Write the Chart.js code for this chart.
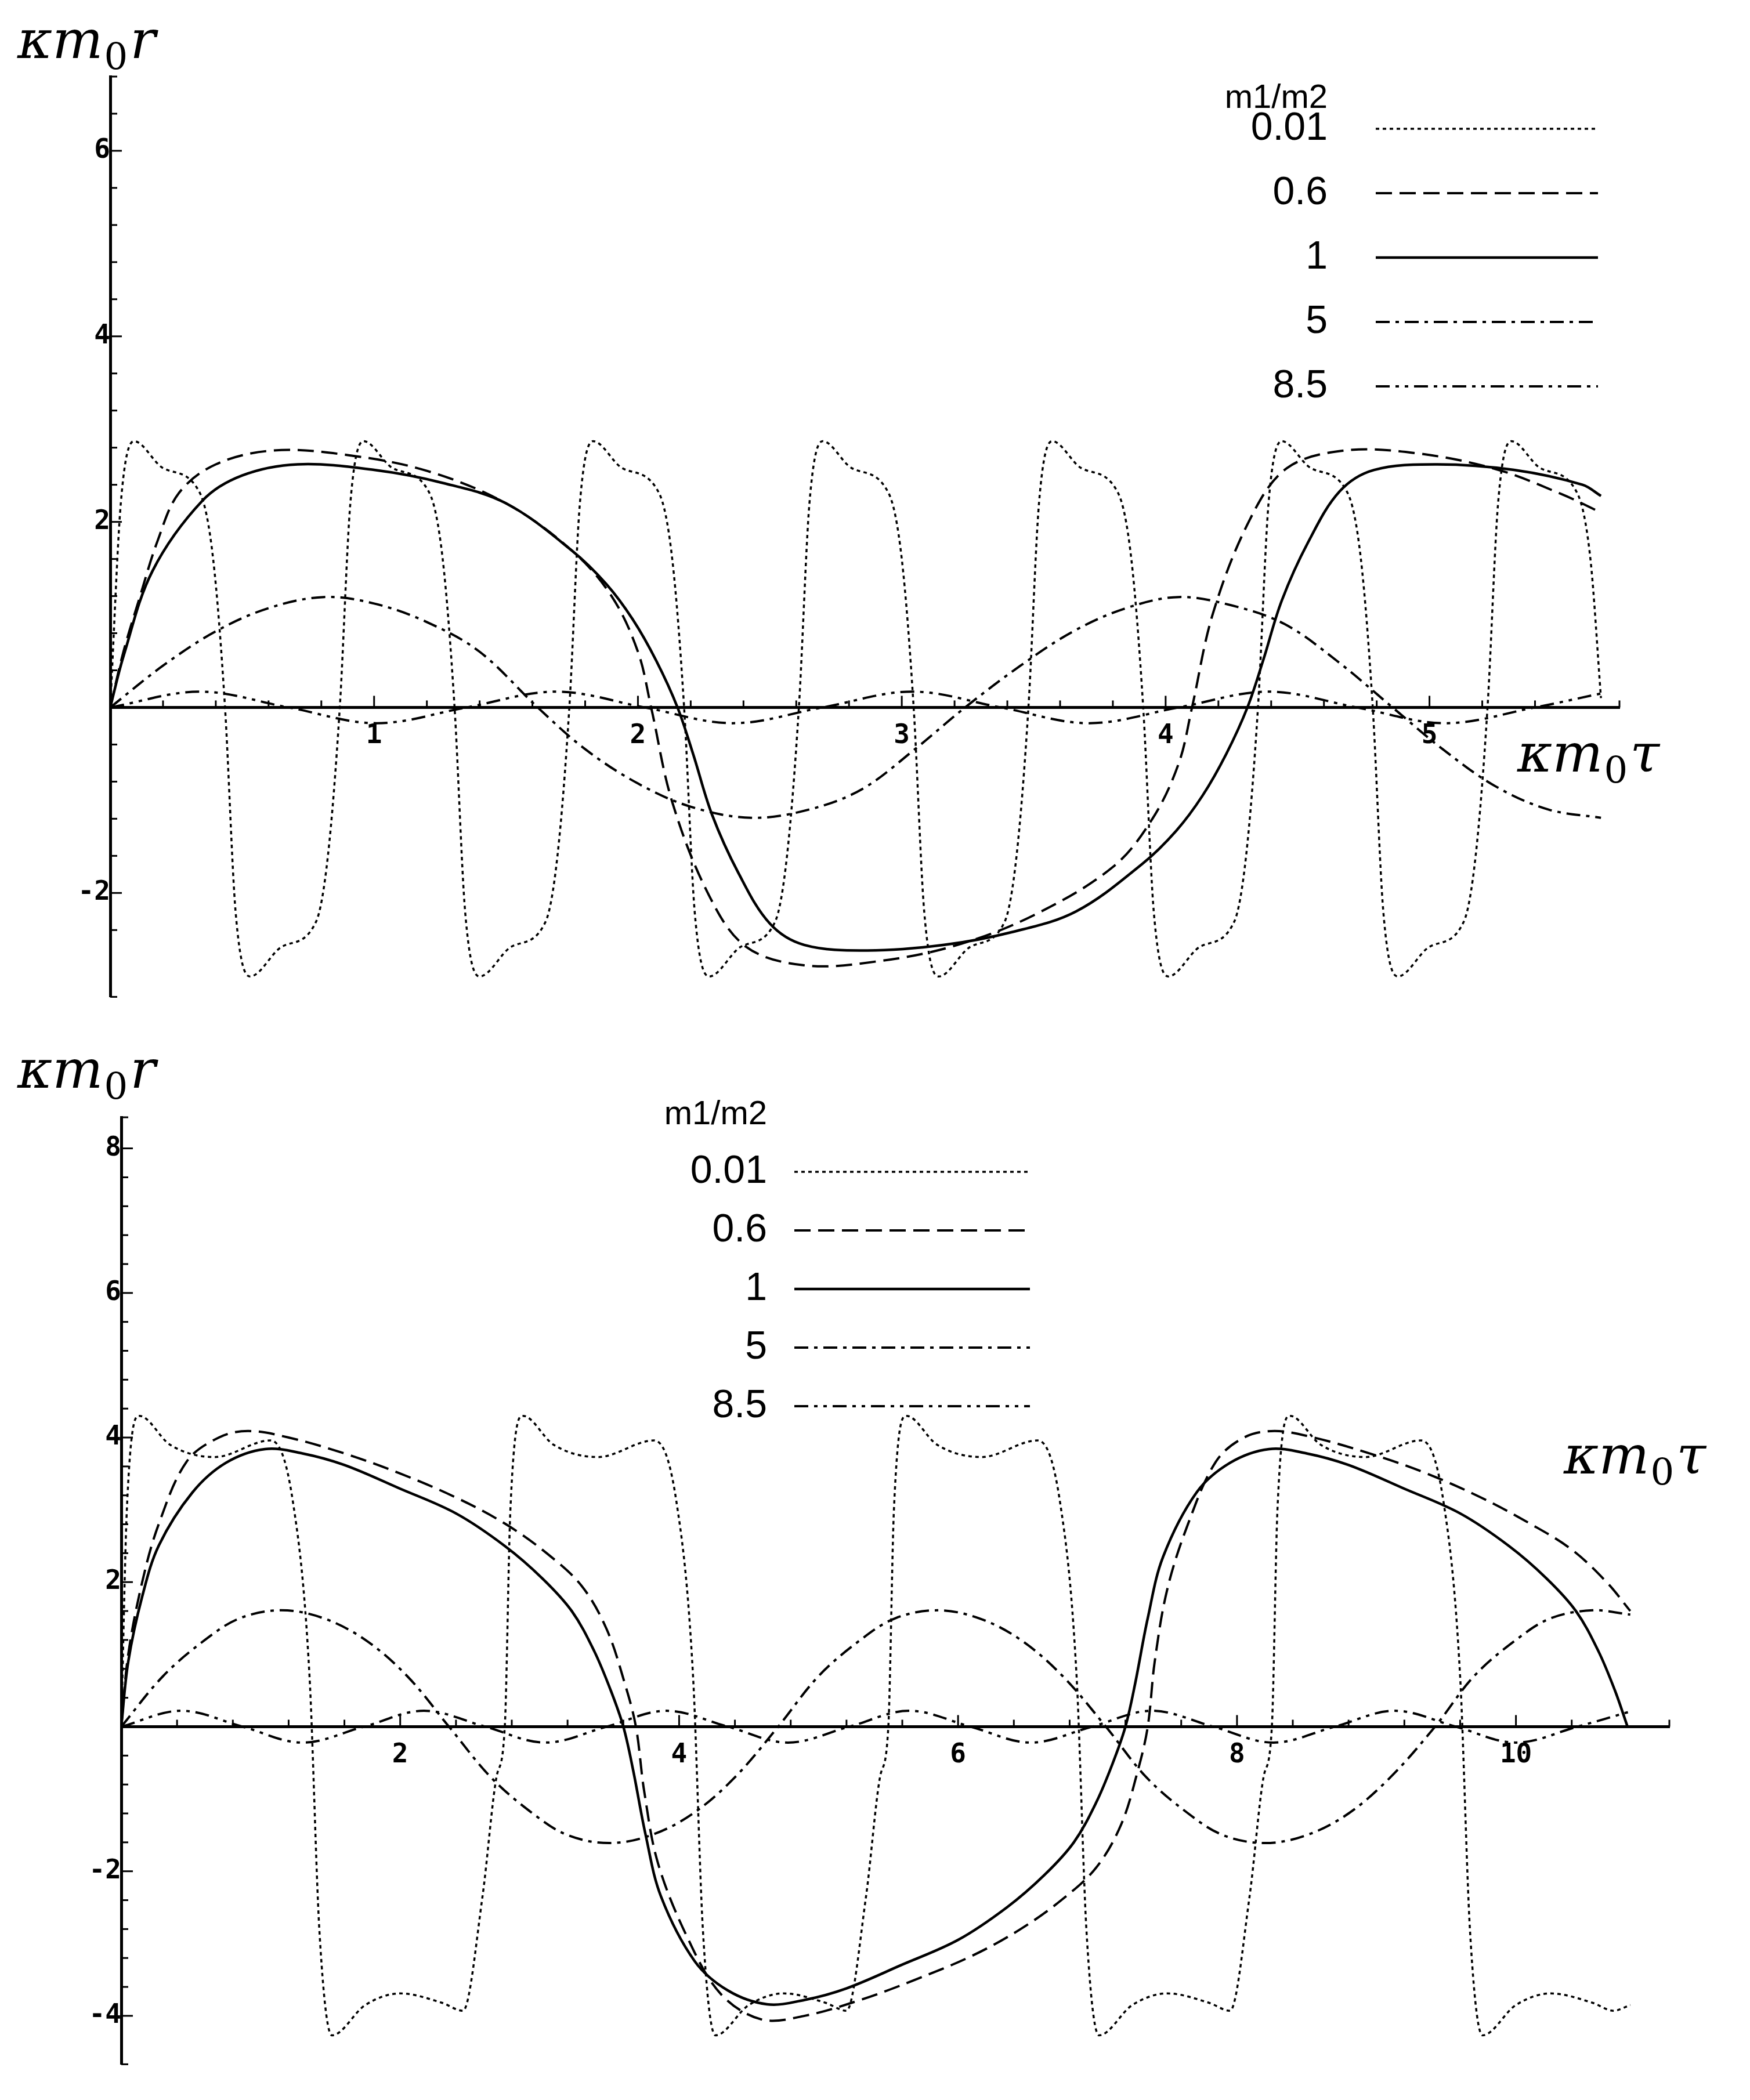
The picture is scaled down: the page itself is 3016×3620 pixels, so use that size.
<!DOCTYPE html>
<html><head><meta charset="utf-8">
<script src="https://cdn.jsdelivr.net/npm/chart.js@4/dist/chart.umd.min.js"></script>
<style>html,body{margin:0;padding:0;background:#fff;width:3016px;height:3620px;overflow:hidden}
canvas{position:absolute;left:0}</style></head>
<body>
<canvas id="c1" width="3016" height="1780" style="top:0"></canvas>
<canvas id="c2" width="3016" height="1840" style="top:1780px"></canvas>
<script>
// ---------- DATA ----------
const legendTitle = "m1/m2";
const seriesNames = ["0.01","0.6","1","5","8.5"];

const top_001 = [[0,0],[0.04,2.2],[0.09,2.87],[0.2,2.58],[0.34,2.31],[0.39,1.6],[0.435,0],[0.475,-2.2],[0.53,-2.9],[0.65,-2.58],[0.78,-2.31],[0.825,-1.6],
[0.87,0],[0.91,2.2],[0.96,2.87],[1.07,2.58],[1.21,2.31],[1.26,1.6],[1.305,0],[1.345,-2.2],[1.4,-2.9],[1.52,-2.58],[1.65,-2.31],[1.695,-1.6],
[1.74,0],[1.78,2.2],[1.83,2.87],[1.94,2.58],[2.08,2.31],[2.13,1.6],[2.175,0],[2.215,-2.2],[2.27,-2.9],[2.39,-2.58],[2.52,-2.31],[2.565,-1.6],
[2.61,0],[2.65,2.2],[2.7,2.87],[2.81,2.58],[2.95,2.31],[3.0,1.6],[3.045,0],[3.085,-2.2],[3.14,-2.9],[3.26,-2.58],[3.39,-2.31],[3.435,-1.6],
[3.48,0],[3.52,2.2],[3.57,2.87],[3.68,2.58],[3.82,2.31],[3.87,1.6],[3.915,0],[3.955,-2.2],[4.01,-2.9],[4.13,-2.58],[4.26,-2.31],[4.305,-1.6],
[4.35,0],[4.39,2.2],[4.44,2.87],[4.55,2.58],[4.69,2.31],[4.74,1.6],[4.785,0],[4.825,-2.2],[4.88,-2.9],[5.0,-2.58],[5.13,-2.31],[5.175,-1.6],
[5.22,0],[5.26,2.2],[5.31,2.87],[5.42,2.58],[5.56,2.31],[5.61,1.6],[5.65,0.1]];
const top_06 = [[0,0],[0.05,0.6],[0.11,1.17],[0.18,1.8],[0.26,2.31],[0.4,2.62],[0.62,2.77],[0.9,2.72],[1.2,2.55],[1.5,2.2],[1.75,1.69],[1.9,1.2],[2.0,0.6],[2.05,0],[2.13,-1.02],[2.27,-2.03],[2.41,-2.58],[2.63,-2.78],[2.9,-2.74],[3.2,-2.57],[3.5,-2.24],[3.8,-1.72],[3.95,-1.2],[4.05,-0.6],[4.1,0],[4.18,1.02],[4.32,2.03],[4.46,2.58],[4.68,2.77],[4.95,2.74],[5.25,2.57],[5.5,2.3],[5.65,2.1]];
const top_1 = [[0,0],[0.05,0.55],[0.16,1.47],[0.35,2.23],[0.5,2.5],[0.71,2.62],[1.0,2.56],[1.26,2.42],[1.5,2.2],[1.75,1.69],[1.88,1.33],[1.98,0.95],[2.07,0.5],[2.15,0],[2.21,-0.51],[2.28,-1.15],[2.38,-1.78],[2.5,-2.33],[2.63,-2.56],[2.87,-2.62],[3.16,-2.56],[3.42,-2.42],[3.66,-2.2],[3.91,-1.69],[4.04,-1.33],[4.14,-0.95],[4.23,-0.5],[4.31,0],[4.37,0.51],[4.44,1.15],[4.54,1.78],[4.66,2.33],[4.79,2.56],[5.03,2.62],[5.32,2.56],[5.58,2.4],[5.65,2.28]];
const top_5 = [[0,0],[0.2,0.45],[0.4,0.82],[0.6,1.07],[0.81,1.19],[1.0,1.12],[1.2,0.92],[1.4,0.6],[1.62,0],[1.8,-0.45],[2.0,-0.82],[2.2,-1.07],[2.43,-1.19],[2.65,-1.1],[2.85,-0.88],[3.05,-0.45],[3.24,0],[3.45,0.45],[3.65,0.82],[3.85,1.07],[4.05,1.19],[4.25,1.1],[4.45,0.9],[4.65,0.5],[4.86,0],[5.05,-0.45],[5.25,-0.85],[5.45,-1.1],[5.65,-1.19]];
const top_85 = [[0,0],[0.34,0.17],[0.675,0],[1.01,-0.17],[1.35,0],[1.69,0.17],[2.025,0],[2.36,-0.17],[2.7,0],[3.04,0.17],[3.375,0],[3.71,-0.17],[4.05,0],[4.39,0.17],[4.725,0],[5.06,-0.17],[5.4,0],[5.65,0.15]];

const bot_001 = [[0,0],[0.04,3.0],[0.13,4.3],[0.35,3.9],[0.67,3.73],[1.07,3.96],[1.23,3.12],[1.35,0.69],[1.42,-2.8],[1.51,-4.27],[1.75,-3.85],[2.0,-3.69],[2.3,-3.82],[2.45,-3.93],[2.59,-2.35],[2.69,-0.7],
[2.75,0],[2.79,3.0],[2.88,4.3],[3.1,3.9],[3.42,3.73],[3.82,3.96],[3.98,3.12],[4.1,0.69],[4.17,-2.8],[4.26,-4.27],[4.5,-3.85],[4.75,-3.69],[5.05,-3.82],[5.2,-3.93],[5.34,-2.35],[5.44,-0.7],
[5.5,0],[5.54,3.0],[5.63,4.3],[5.85,3.9],[6.17,3.73],[6.57,3.96],[6.73,3.12],[6.85,0.69],[6.92,-2.8],[7.01,-4.27],[7.25,-3.85],[7.5,-3.69],[7.8,-3.82],[7.95,-3.93],[8.09,-2.35],[8.19,-0.7],
[8.25,0],[8.29,3.0],[8.38,4.3],[8.6,3.9],[8.92,3.73],[9.32,3.96],[9.48,3.12],[9.6,0.69],[9.67,-2.8],[9.76,-4.27],[10.0,-3.85],[10.25,-3.69],[10.55,-3.82],[10.7,-3.93],[10.82,-3.85]];
const bot_06 = [[0,0],[0.05,1.0],[0.15,2.0],[0.27,2.81],[0.47,3.67],[0.7,4.0],[0.91,4.09],[1.2,4.0],[1.6,3.78],[1.99,3.51],[2.4,3.17],[2.75,2.81],[3.05,2.4],[3.3,1.95],[3.48,1.35],[3.61,0.6],[3.69,0],[3.75,-0.9],[3.85,-1.9],[4.07,-2.96],[4.3,-3.7],[4.59,-4.05],[4.9,-4.0],[5.3,-3.78],[5.68,-3.51],[6.1,-3.17],[6.44,-2.81],[6.74,-2.4],[6.99,-1.95],[7.17,-1.35],[7.29,-0.6],[7.36,0],[7.41,0.9],[7.5,1.9],[7.65,2.81],[7.85,3.67],[8.05,4.0],[8.27,4.09],[8.55,4.0],[8.95,3.78],[9.35,3.51],[9.75,3.17],[10.1,2.81],[10.4,2.45],[10.65,2.0],[10.82,1.6]];
const bot_1 = [[0,0],[0.05,0.9],[0.15,1.8],[0.27,2.51],[0.51,3.24],[0.75,3.65],[1.03,3.84],[1.3,3.78],[1.6,3.62],[1.99,3.3],[2.4,2.95],[2.75,2.5],[3.02,2.05],[3.23,1.6],[3.39,1.05],[3.51,0.5],[3.6,0],[3.67,-0.6],[3.76,-1.5],[3.87,-2.35],[4.11,-3.24],[4.35,-3.65],[4.63,-3.84],[4.9,-3.78],[5.2,-3.62],[5.59,-3.3],[6.0,-2.95],[6.35,-2.5],[6.62,-2.05],[6.83,-1.6],[6.99,-1.05],[7.11,-0.5],[7.2,0],[7.27,0.6],[7.36,1.5],[7.47,2.35],[7.71,3.24],[7.95,3.65],[8.23,3.84],[8.5,3.78],[8.8,3.62],[9.19,3.3],[9.6,2.95],[9.95,2.5],[10.22,2.05],[10.43,1.6],[10.59,1.05],[10.71,0.5],[10.8,0]];
const bot_5 = [[0,0],[0.3,0.7],[0.6,1.2],[0.85,1.5],[1.15,1.61],[1.45,1.5],[1.75,1.2],[2.05,0.7],[2.35,0],[2.65,-0.7],[2.95,-1.2],[3.2,-1.5],[3.5,-1.61],[3.8,-1.5],[4.1,-1.2],[4.4,-0.7],[4.71,0],[5.0,0.7],[5.3,1.2],[5.55,1.5],[5.85,1.61],[6.15,1.5],[6.45,1.2],[6.75,0.7],[7.06,0],[7.35,-0.7],[7.65,-1.2],[7.9,-1.5],[8.2,-1.61],[8.5,-1.5],[8.8,-1.2],[9.1,-0.7],[9.42,0],[9.7,0.7],[10.0,1.2],[10.25,1.5],[10.55,1.61],[10.82,1.55]];
const bot_85 = [[0,0],[0.43,0.22],[0.87,0],[1.3,-0.22],[1.74,0],[2.17,0.22],[2.61,0],[3.04,-0.22],[3.48,0],[3.91,0.22],[4.35,0],[4.78,-0.22],[5.22,0],[5.65,0.22],[6.09,0],[6.52,-0.22],[6.96,0],[7.39,0.22],[7.83,0],[8.26,-0.22],[8.7,0],[9.13,0.22],[9.57,0],[10.0,-0.22],[10.44,0],[10.82,0.21]];

// ---------- STYLE ----------
const dashes = [[6,6],[28,13],[],[24,10,6,10],[24,10,6,10,6,10]];
const widths = [3.5,4,4.5,4,4];

function mkDatasets(list){
  return list.map((d,i)=>({label:seriesNames[i],data:d.map(p=>({x:p[0],y:p[1]})),borderColor:'#000',borderWidth:widths[i],borderDash:dashes[i],pointRadius:0,fill:false,
    cubicInterpolationMode:(i===0?'monotone':'default'),tension:0.35}));
}

function drawMath(ctx,x,y,main,sub,last,size){
  ctx.save();ctx.fillStyle='#000';ctx.textBaseline='alphabetic';ctx.textAlign='left';
  ctx.font='italic '+size+'px "DejaVu Serif"';
  ctx.fillText(main,x,y);let w=ctx.measureText(main).width;
  ctx.font=Math.round(size*0.7)+'px "DejaVu Serif"';
  ctx.fillText(sub,x+w+2,y+size*0.22);w+=ctx.measureText(sub).width+6;
  ctx.font='italic '+size+'px "DejaVu Serif"';
  ctx.fillText(last,x+w,y);ctx.restore();
}

function makeChart(id,data,opt){
  const deco={id:'deco',afterDraw(ch){
    const ctx=ch.ctx,xs=ch.scales.x,ys=ch.scales.y;
    const x0=xs.getPixelForValue(0),y0=ys.getPixelForValue(0);
    ctx.save();ctx.strokeStyle='#000';ctx.lineWidth=3;ctx.setLineDash([]);
    xs.ticks.forEach(t=>{const p=xs.getPixelForValue(t.value);const maj=t.label!=='';ctx.beginPath();ctx.moveTo(p,y0);ctx.lineTo(p,y0-(maj?20:12));ctx.stroke();});
    ys.ticks.forEach(t=>{const p=ys.getPixelForValue(t.value);const maj=t.label!=='';ctx.beginPath();ctx.moveTo(x0,p);ctx.lineTo(x0+(maj?20:12),p);ctx.stroke();});
    ctx.restore();
    drawMath(ctx,opt.ylab[0],opt.ylab[1],'κm','0','r',92);
    drawMath(ctx,opt.xlab[0],opt.xlab[1],'κm','0','τ',92);
    // legend
    ctx.save();ctx.fillStyle='#000';ctx.font='58px "Liberation Sans"';ctx.textAlign='right';ctx.textBaseline='middle';
    ctx.fillText(legendTitle,opt.leg.lx,opt.leg.ty);
    ctx.font='68px "Liberation Sans"';
    seriesNames.forEach((n,i)=>{const yy=opt.leg.y0+i*opt.leg.dy;ctx.fillText(n,opt.leg.lx,yy);
      ctx.beginPath();ctx.setLineDash(dashes[i]);ctx.lineWidth=widths[i];ctx.strokeStyle='#000';ctx.moveTo(opt.leg.a,yy);ctx.lineTo(opt.leg.b,yy);ctx.stroke();});
    ctx.restore();
  }};
  return new Chart(document.getElementById(id),{type:'line',data:{datasets:mkDatasets(data)},plugins:[deco],
    options:{responsive:false,animation:false,devicePixelRatio:1,
      layout:{padding:opt.pad},
      plugins:{legend:{display:false},tooltip:{enabled:false}},
      scales:{
        x:{type:'linear',min:opt.xr[0],max:opt.xr[1],position:{y:0},afterFit:s=>{s.height=0;},
           border:{display:true,color:'#000',width:5},grid:{display:false,drawTicks:false},
           ticks:{stepSize:opt.xstep,autoSkip:false,maxRotation:0,padding:22,color:'#000',font:{family:'DejaVu Sans Mono',size:46,weight:'bold'},
             callback:v=>{const r=Math.round(v);return (Math.abs(v-r)<1e-6&&r!==0&&r%opt.xmaj===0)?String(r):'';}}},
        y:{type:'linear',min:opt.yr[0],max:opt.yr[1],position:{x:0},afterFit:s=>{s.width=0;},
           border:{display:true,color:'#000',width:5},grid:{display:false,drawTicks:false},
           ticks:{stepSize:0.4,autoSkip:false,padding:34,color:'#000',font:{family:'DejaVu Sans Mono',size:46,weight:'bold'},
             callback:v=>{const r=Math.round(v);return (Math.abs(v-r)<1e-6&&r!==0&&r%2===0)?(r<0?'-'+(-r):String(r)):'';}}}
      }}});
}

makeChart('c1',[top_001,top_06,top_1,top_5,top_85],{
  pad:{left:190,top:132,right:225,bottom:52},xr:[0,5.72],yr:[-3.12,6.8],xstep:0.2,xmaj:1,
  ylab:[30,100],xlab:[2615,1330],
  leg:{ty:170,lx:2288,y0:222,dy:111,a:2371,b:2754}});
makeChart('c2',[bot_001,bot_06,bot_1,bot_5,bot_85],{
  pad:{left:209,top:146,right:139,bottom:47},xr:[0,11.1],yr:[-4.67,8.43],xstep:0.4,xmaj:2,
  ylab:[30,95],xlab:[2695,760],
  leg:{ty:142,lx:1322,y0:240,dy:101,a:1369,b:1775}});
</script>
</body></html>
